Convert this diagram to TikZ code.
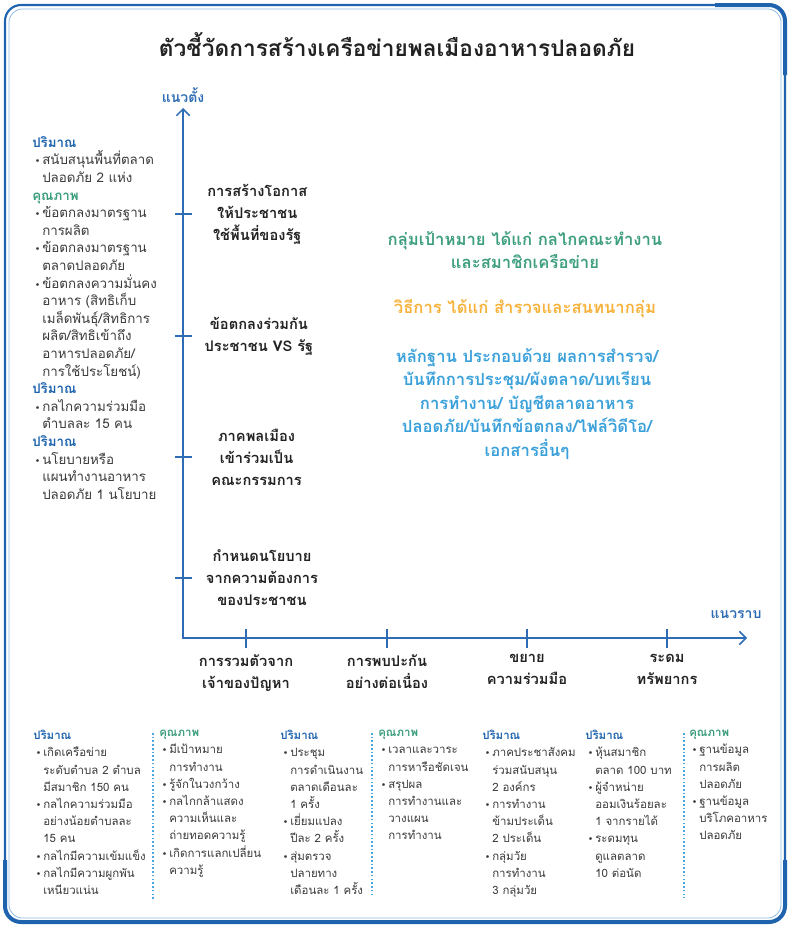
\documentclass[tikz,border=0pt]{standalone}
\usepackage{fontspec}
\setmainfont[Script=Thai]{Loma}
\newfontfamily\bulletfont{DejaVu Sans}
\usetikzlibrary{arrows.meta,positioning}
\definecolor{axisblue}{HTML}{2E6DB4}
\definecolor{qtyblue}{HTML}{1E63AD}
\definecolor{qualgreen}{HTML}{3A9C7C}
\definecolor{bodytext}{HTML}{3A3A3A}
\definecolor{darktext}{HTML}{222222}
\definecolor{targetgreen}{HTML}{3E9E80}
\definecolor{methodorange}{HTML}{F7B23B}
\definecolor{evidblue}{HTML}{3AA0DA}
\definecolor{frameblue}{HTML}{1F63AE}
\definecolor{framelight}{HTML}{8DBBE3}
\definecolor{dotblue}{HTML}{4AA8E0}
\newcommand{\qtyhead}{{\color{qtyblue}\bfseries ปริมาณ}}
\newcommand{\qualhead}{{\color{qualgreen}\bfseries คุณภาพ}}
\newcommand{\itm}[1]{\hspace*{2pt}\makebox[5.5pt][l]{\bulletfont\fontsize{7}{7}\selectfont •}#1}
\newcommand{\ind}[1]{\hspace*{7.5pt}#1}
\tikzset{
  frame_outer/.style={draw=frameblue,line width=1.6pt,rounded corners=12pt},
  frame_thick/.style={draw=frameblue,line width=3pt,rounded corners=12pt},
  frame_inner/.style={draw=framelight,line width=0.6pt,rounded corners=10pt},
  axis_line/.style={draw=axisblue,line width=1.1pt,{Straight Barb[length=5pt,width=10pt]}-{Straight Barb[length=5pt,width=10pt]}},
  tick_mark/.style={draw=axisblue,line width=1.1pt},
  axis_name/.style={inner sep=0pt,font=\fontsize{10.5}{12}\selectfont\bfseries\color{axisblue}},
  title_text/.style={inner sep=0pt,font=\fontsize{17}{20}\selectfont\bfseries\color{darktext}},
  lbl_axis/.style={align=center,inner sep=0pt,font=\fontsize{11}{16.5}\selectfont\bfseries\color{darktext}},
  col_text/.style={align=left,inner sep=0pt,anchor=north west,font=\fontsize{10}{13.2}\selectfont\color{bodytext}},
  col_bottom/.style={col_text,font=\fontsize{8.6}{12.9}\selectfont\color{bodytext}},
  mid_text/.style={align=center,inner sep=0pt,font=\fontsize{12.5}{17.6}\selectfont\bfseries},
  sep_dots/.style={draw=dotblue,line width=1.2pt,dash pattern=on 1.2pt off 1.6pt},
}

\begin{document}
\begin{tikzpicture}[x=0.75pt,y=-0.75pt]
  \useasboundingbox (0,0) rectangle (789,928);
  % frame
  \draw[frame_outer] (5,5) rectangle (785,922);
  \draw[frame_thick] (715,5) -| (785,75);
  \draw[frame_thick] (5,860) |- (785,922) -- (785,860);
  \draw[frame_inner] (9,9) rectangle (781,918);

  \node[title_text] (title) at (397,45) {ตัวชี้วัดการสร้างเครือข่ายพลเมืองอาหารปลอดภัย};

  % axes
  \coordinate (origin) at (183,638);
  \coordinate (ytop) at (183,108);
  \coordinate (xend) at (747,638);
  \draw[axis_line] (ytop) -- (origin) -- (xend);
  \node[axis_name] (yname) at (183,95) {แนวตั้ง};
  \node[axis_name] (xname) at (736,615) {แนวราบ};

  \foreach \y/\n in {214/1,336/2,457/3,578/4}{
    \coordinate (vt\n) at (183,\y);
    \draw[tick_mark] (175,\y) -- (192,\y);
  }
  \foreach \x/\n in {246/1,387/2,527/3,667/4}{
    \coordinate (ht\n) at (\x,638);
    \draw[tick_mark] (\x,629) -- (\x,648);
  }

  \node[lbl_axis,right=18pt of vt1] (v1) {การสร้างโอกาส\\ให้ประชาชน\\ใช้พื้นที่ของรัฐ};
  \node[lbl_axis,right=16pt of vt2] (v2) {ข้อตกลงร่วมกัน\\ประชาชน VS รัฐ};
  \node[lbl_axis,right=21pt of vt3] (v3) {ภาคพลเมือง\\เข้าร่วมเป็น\\คณะกรรมการ};
  \node[lbl_axis,right=17pt of vt4] (v4) {กำหนดนโยบาย\\จากความต้องการ\\ของประชาชน};

  \node[lbl_axis,below=12pt of ht1] (h1) {การรวมตัวจาก\\เจ้าของปัญหา};
  \node[lbl_axis,below=12pt of ht2] (h2) {การพบปะกัน\\อย่างต่อเนื่อง};
  \node[lbl_axis,below=12pt of ht3] (h3) {ขยาย\\ความร่วมมือ};
  \node[lbl_axis,below=12pt of ht4] (h4) {ระดม\\ทรัพยากร};

  % centre notes
  \node[mid_text,text=targetgreen] (target) at (525,250) {กลุ่มเป้าหมาย ได้แก่ กลไกคณะทำงาน\\และสมาชิกเครือข่าย};
  \node[mid_text,text=methodorange] (method) at (525,309) {วิธีการ ได้แก่ สำรวจและสนทนากลุ่ม};
  \node[mid_text,text=evidblue] (evidence) at (527,404) {หลักฐาน ประกอบด้วย ผลการสำรวจ/\\บันทึกการประชุม/ผังตลาด/บทเรียน\\การทำงาน/ บัญชีตลาดอาหาร\\ปลอดภัย/บันทึกข้อตกลง/ไฟล์วิดีโอ/\\เอกสารอื่นๆ};

  % left column
  \node[col_text] (leftcol) at (32,136) {\qtyhead\\
    \itm{สนับสนุนพื้นที่ตลาด}\\ \ind{ปลอดภัย 2 แห่ง}\\
    \qualhead\\
    \itm{ข้อตกลงมาตรฐาน}\\ \ind{การผลิต}\\
    \itm{ข้อตกลงมาตรฐาน}\\ \ind{ตลาดปลอดภัย}\\
    \itm{ข้อตกลงความมั่นคง}\\ \ind{อาหาร (สิทธิเก็บ}\\ \ind{เมล็ดพันธุ์/สิทธิการ}\\
    \ind{ผลิต/สิทธิเข้าถึง}\\ \ind{อาหารปลอดภัย/}\\ \ind{การใช้ประโยชน์)}\\
    \qtyhead\\
    \itm{กลไกความร่วมมือ}\\ \ind{ตำบลละ 15 คน}\\
    \qtyhead\\
    \itm{นโยบายหรือ}\\ \ind{แผนทำงานอาหาร}\\ \ind{ปลอดภัย 1 นโยบาย}};

  % bottom columns
  \node[col_bottom] (c1) at (33,730) {\qtyhead\\
    \itm{เกิดเครือข่าย}\\ \ind{ระดับตำบล 2 ตำบล}\\ \ind{มีสมาชิก 150 คน}\\
    \itm{กลไกความร่วมมือ}\\ \ind{อย่างน้อยตำบลละ}\\ \ind{15 คน}\\
    \itm{กลไกมีความเข้มแข็ง}\\
    \itm{กลไกมีความผูกพัน}\\ \ind{เหนียวแน่น}};
  \node[col_bottom] (c2) at (159,730) {\qualhead\\
    \itm{มีเป้าหมาย}\\ \ind{การทำงาน}\\
    \itm{รู้จักในวงกว้าง}\\
    \itm{กลไกกล้าแสดง}\\ \ind{ความเห็นและ}\\ \ind{ถ่ายทอดความรู้}\\
    \itm{เกิดการแลกเปลี่ยน}\\ \ind{ความรู้}};
  \node[col_bottom] (c3) at (280,730) {\qtyhead\\
    \itm{ประชุม}\\ \ind{การดำเนินงาน}\\ \ind{ตลาดเดือนละ}\\ \ind{1 ครั้ง}\\
    \itm{เยี่ยมแปลง}\\ \ind{ปีละ 2 ครั้ง}\\
    \itm{สุ่มตรวจ}\\ \ind{ปลายทาง}\\ \ind{เดือนละ 1 ครั้ง}};
  \node[col_bottom] (c4) at (378,730) {\qualhead\\
    \itm{เวลาและวาระ}\\ \ind{การหารือชัดเจน}\\
    \itm{สรุปผล}\\ \ind{การทำงานและ}\\ \ind{วางแผน}\\ \ind{การทำงาน}};
  \node[col_bottom] (c5) at (482,730) {\qtyhead\\
    \itm{ภาคประชาสังคม}\\ \ind{ร่วมสนับสนุน}\\ \ind{2 องค์กร}\\
    \itm{การทำงาน}\\ \ind{ข้ามประเด็น}\\ \ind{2 ประเด็น}\\
    \itm{กลุ่มวัย}\\ \ind{การทำงาน}\\ \ind{3 กลุ่มวัย}};
  \node[col_bottom] (c6) at (585,730) {\qtyhead\\
    \itm{หุ้นสมาชิก}\\ \ind{ตลาด 100 บาท}\\
    \itm{ผู้จำหน่าย}\\ \ind{ออมเงินร้อยละ}\\ \ind{1 จากรายได้}\\
    \itm{ระดมทุน}\\ \ind{ดูแลตลาด}\\ \ind{10 ต่อนัด}};
  \node[col_bottom] (c7) at (689,730) {\qualhead\\
    \itm{ฐานข้อมูล}\\ \ind{การผลิต}\\ \ind{ปลอดภัย}\\
    \itm{ฐานข้อมูล}\\ \ind{บริโภคอาหาร}\\ \ind{ปลอดภัย}};

  \draw[sep_dots] (153,733) -- (153,900);
  \draw[sep_dots] (372,733) -- (372,897);
  \draw[sep_dots] (684,733) -- (684,898);
\end{tikzpicture}
\end{document}
